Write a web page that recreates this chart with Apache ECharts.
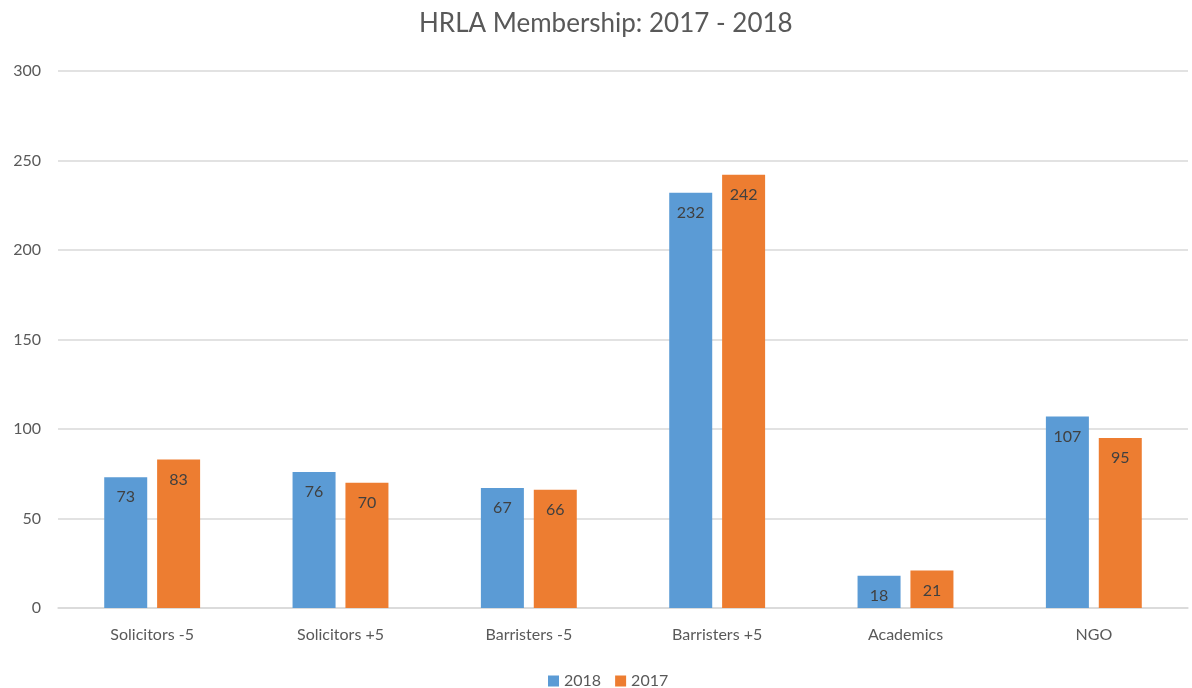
<!DOCTYPE html>
<html><head><meta charset="utf-8">
<script src="https://cdn.jsdelivr.net/npm/echarts@6/dist/echarts.min.js"></script>
<style>html,body{margin:0;padding:0;background:#fff}#c{width:1192px;height:688px}</style>
</head><body><div id="c"></div>
<script>
const categories = ["Solicitors -5", "Solicitors +5", "Barristers -5", "Barristers +5", "Academics", "NGO"];
const values2018 = [73, 76, 67, 232, 18, 107];
const values2017 = [83, 70, 66, 242, 21, 95];
const chart = echarts.init(document.getElementById('c'));
const font = 'Lato, "Open Sans", sans-serif';
const lbl = {show: true, position: 'insideTop', distance: 12, color: '#404040', fontSize: 16, fontFamily: font};
chart.setOption({
  animation: false,
  title: {text: 'HRLA Membership: 2017 - 2018', left: 414, top: 6,
    textStyle: {fontFamily: font, fontSize: 26, fontWeight: 'normal', color: '#595959'}},
  legend: {bottom: -6, left: 543, itemWidth: 11, itemHeight: 11, itemGap: 14, icon: 'rect',
    textStyle: {fontFamily: font, fontSize: 16, color: '#595959'}, data: ['2018', '2017']},
  grid: {left: 58, right: 4, top: 71, bottom: 80},
  xAxis: {type: 'category', data: categories,
    axisLine: {lineStyle: {color: '#d9d9d9', width: 1.5}}, axisTick: {show: false},
    axisLabel: {fontFamily: font, fontSize: 16, color: '#595959', margin: 19}},
  yAxis: {type: 'value', min: 0, max: 300, interval: 50,
    axisLine: {show: false}, axisTick: {show: false},
    splitLine: {lineStyle: {color: '#d9d9d9', width: 1.5}},
    axisLabel: {fontFamily: font, fontSize: 16, color: '#595959', margin: 17}},
  series: [
    {name: '2018', type: 'bar', data: values2018, barWidth: 43, barGap: '23%',
      itemStyle: {color: '#5B9BD5'}, label: lbl},
    {name: '2017', type: 'bar', data: values2017, barWidth: 43,
      itemStyle: {color: '#ED7D31'}, label: lbl}
  ]
});
</script></body></html>
